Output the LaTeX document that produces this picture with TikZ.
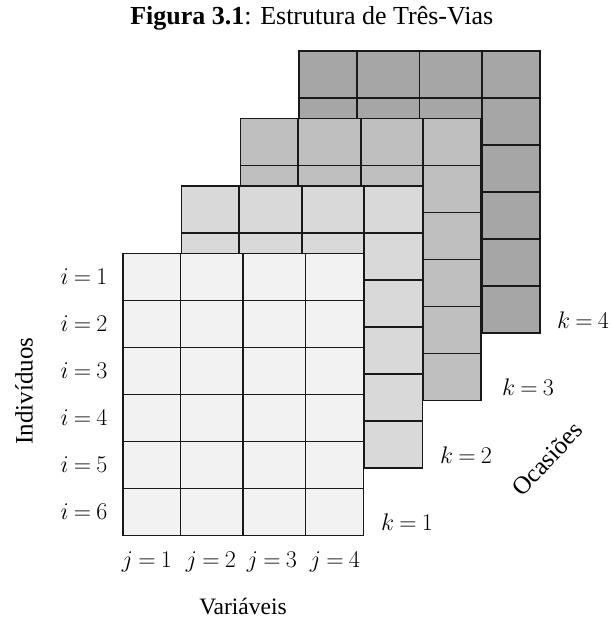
\RequirePackage{fix-cm}
\documentclass[tikz,border=0pt]{standalone}
\usepackage{fontspec}
\setmainfont{Liberation Serif}
\definecolor{gA}{HTML}{F2F2F2}
\definecolor{gB}{HTML}{D9D9D9}
\definecolor{gC}{HTML}{BFBFBF}
\definecolor{gD}{HTML}{A6A6A6}
\newcommand{\eqlab}[2]{$\thickmuskip=4mu #1=#2$}
\begin{document}
\begin{tikzpicture}[x=1pt,y=-1pt,
  cell/.style={draw=black!90, line width=1.6pt},
  lab/.style={inner sep=0pt, font=\fontsize{24}{28}\selectfont},
  axis/.style={inner sep=0pt, font=\fontsize{25}{29}\selectfont}]
\useasboundingbox (0,0) rectangle (611,620);
\foreach \k/\c in {3/gD,2/gC,1/gB,0/gA}{
  \begin{scope}[shift={(122.8+58.8*\k,253.3-67.4*\k)}]
    \fill[\c] (0,0) rectangle (240.8,282);
    \foreach \xa/\xb in {0/57.6,57.6/120.3,120.3/182.6,182.6/240.8}{
      \foreach \ya in {0,47,94,141,188,235}{
        \draw[cell] (\xa,\ya) rectangle (\xb,\ya+47);
      }
    }
  \end{scope}
}
\node[inner sep=0pt, font=\fontsize{26}{30}\selectfont] (title) at (311.7,18) {\textbf{Figura 3.1}: Estrutura de Três-Vias};
\foreach \n in {1,...,6}{
  \node[lab] (i\n) at (84,{276.8+47*(\n-1)}) {\eqlab{i}{\n}};
}
\node[lab] (j1) at (147,562) {\eqlab{j}{1}};
\node[lab] (j2) at (211,562) {\eqlab{j}{2}};
\node[lab] (j3) at (272,562) {\eqlab{j}{3}};
\node[lab] (j4) at (335,562) {\eqlab{j}{4}};
\node[lab] (k1) at (407,522) {\eqlab{k}{1}};
\node[lab] (k2) at (466,455.5) {\eqlab{k}{2}};
\node[lab] (k3) at (528,387) {\eqlab{k}{3}};
\node[lab] (k4) at (583,320) {\eqlab{k}{4}};
\node[inner sep=0pt, font=\fontsize{23.5}{27}\selectfont] (var) at (243,607) {Variáveis};
\node[axis, rotate=90] (ind) at (24,391) {Indivíduos};
\node[axis, rotate=47] (oca) at (547,459) {Ocasiões};
\end{tikzpicture}
\end{document}
